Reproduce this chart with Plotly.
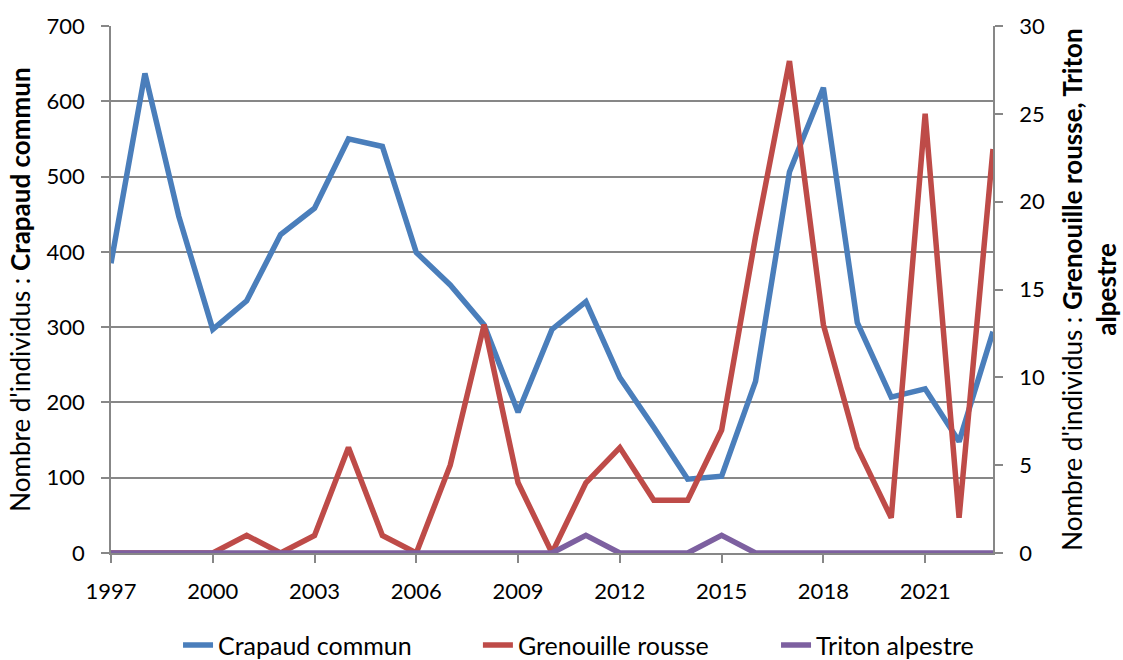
import plotly.graph_objects as go

years = list(range(1997, 2024))

crapaud_commun = [385, 637, 447, 297, 335, 423, 458, 550, 540, 399, 356, 303,
                  187, 297, 334, 233, 167, 98, 102, 228, 506, 618, 306, 207,
                  218, 148, 294]
grenouille_rousse = [0, 0, 0, 0, 1, 0, 1, 6, 1, 0, 5, 13,
                     4, 0, 4, 6, 3, 3, 7, 18, 28, 13, 6, 2,
                     25, 2, 23]
triton_alpestre = [0, 0, 0, 0, 0, 0, 0, 0, 0, 0, 0, 0,
                   0, 0, 1, 0, 0, 0, 1, 0, 0, 0, 0, 0,
                   0, 0, 0]

x_ticks = list(range(1997, 2024, 3))
left_ticks = list(range(0, 701, 100))
right_ticks = list(range(0, 31, 5))

FONT = "Lato"
GRID = "#878787"
LINE_W = 5.5

fig = go.Figure()
fig.add_trace(go.Scatter(x=years, y=crapaud_commun, name="Crapaud commun",
                         mode="lines", line=dict(color="#4A7EBB", width=LINE_W),
                         cliponaxis=False, yaxis="y", legend="legend"))
fig.add_trace(go.Scatter(x=years, y=grenouille_rousse, name="Grenouille rousse",
                         mode="lines", line=dict(color="#BE4B48", width=LINE_W),
                         cliponaxis=False, yaxis="y2", legend="legend2"))
fig.add_trace(go.Scatter(x=years, y=triton_alpestre, name="Triton alpestre",
                         mode="lines", line=dict(color="#7D60A0", width=LINE_W),
                         cliponaxis=False, yaxis="y2", legend="legend3"))

axis_common = dict(showline=True, linecolor=GRID, linewidth=1.5,
                   ticks="outside", ticklen=8, tickcolor=GRID, tickwidth=1.5,
                   zeroline=False, tickfont=dict(size=22))


def legend_box(x):
    # one horizontal legend per series, placed along the bottom row
    return dict(orientation="h", x=x, xanchor="left", y=-0.175,
                yanchor="middle", font=dict(size=25), bgcolor="rgba(0,0,0,0)")


fig.update_layout(
    width=1123, height=660,
    margin=dict(l=111, r=130, t=26, b=107, autoexpand=False),
    paper_bgcolor="white", plot_bgcolor="white",
    font=dict(family=FONT, size=22, color="black"),
    showlegend=True,
    legend=legend_box(0.076),
    legend2=legend_box(0.416),
    legend3=legend_box(0.754),
    xaxis=dict(range=[1997, 2023], tickvals=x_ticks, showgrid=False,
               ticklabelstandoff=10, **axis_common),
    yaxis=dict(range=[0, 700], tickvals=left_ticks, showgrid=True,
               gridcolor=GRID, gridwidth=1.5, ticklabelstandoff=12,
               title=dict(text="Nombre d'individus : <b>Crapaud commun</b>",
                          font=dict(size=26), standoff=8),
               **axis_common),
    yaxis2=dict(range=[0, 30], tickvals=right_ticks, overlaying="y",
                side="right", showgrid=False, ticklabelstandoff=12,
                title=dict(text="Nombre d'individus : <b>Grenouille rousse, Triton<br>alpestre</b>",
                           font=dict(size=26), standoff=20),
                **axis_common),
)

fig.write_html("out.html")
